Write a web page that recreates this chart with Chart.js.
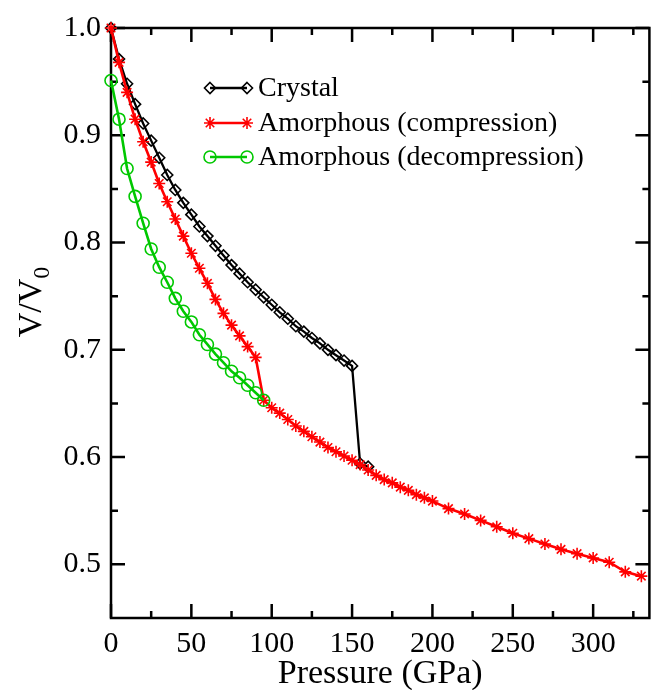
<!DOCTYPE html>
<html>
<head>
<meta charset="utf-8">
<script src="https://cdn.jsdelivr.net/npm/chart.js@4.4.0/dist/chart.umd.min.js"></script>
<style>
  html, body { margin: 0; padding: 0; background: #fff; }
  #wrap { width: 657px; height: 690px; }
</style>
</head>
<body>
<div id="wrap"><canvas id="eosChart" width="657" height="690"></canvas></div>
<script>
// values: pressure (GPa) and V/V0
const crystalP = [0, 5, 10, 15, 20, 25, 30, 35, 40, 45, 50, 55, 60, 65, 70, 75, 80, 85, 90, 95,
    100, 105, 110, 115, 120, 125, 130, 135, 140, 145, 150, 155, 160];
const crystalV = [1.000, 0.971, 0.948, 0.929, 0.911, 0.895, 0.879, 0.863, 0.849, 0.837, 0.826, 0.815,
    0.806, 0.797, 0.788, 0.779, 0.771, 0.763, 0.756, 0.749, 0.742, 0.735, 0.729, 0.722, 0.717, 0.711,
    0.706, 0.700, 0.695, 0.690, 0.685, 0.594, 0.591];

const compP = [0, 5, 10, 15, 20, 25, 30, 35, 40, 45, 50, 55, 60, 65, 70, 75, 80, 85, 90,
    95, 100, 105, 110, 115, 120, 125, 130, 135, 140, 145, 150, 155, 160, 165, 170, 175, 180, 185, 190, 195, 200,
    210, 220, 230, 240, 250, 260, 270, 280, 290, 300, 310, 320, 330];
const compV = [1.000, 0.968, 0.940, 0.915, 0.894, 0.875, 0.855, 0.838, 0.822, 0.806, 0.790, 0.776, 0.762,
    0.747, 0.734, 0.723, 0.713, 0.703, 0.693,
    0.653, 0.646, 0.641, 0.635, 0.629, 0.624, 0.619, 0.614, 0.609, 0.605, 0.601, 0.597, 0.593, 0.588, 0.583,
    0.579, 0.576, 0.572, 0.569, 0.565, 0.562, 0.559,
    0.552, 0.547, 0.541, 0.535, 0.529, 0.524, 0.519, 0.514, 0.510, 0.506, 0.502, 0.493, 0.489];

const decompP = [0, 5, 10, 15, 20, 25, 30, 35, 40, 45, 50, 55, 60, 65, 70, 75, 80, 85, 90, 95];
const decompV = [0.951, 0.915, 0.869, 0.843, 0.818, 0.794, 0.777, 0.763, 0.748, 0.736, 0.726, 0.714,
    0.705, 0.696, 0.688, 0.680, 0.674, 0.667, 0.660, 0.653];

const seriesLabels = ['Crystal', 'Amorphous (compression)', 'Amorphous (decompression)'];

const xMajorTicks = [0, 50, 100, 150, 200, 250, 300];
const xMinorTicks = [25, 75, 125, 175, 225, 275, 325];
const yMajorTicks = [0.5, 0.6, 0.7, 0.8, 0.9, 1.0];
const yMinorTicks = [0.55, 0.65, 0.75, 0.85, 0.95];

const SERIF = "'Liberation Serif', 'Times New Roman', serif";
const GREEN = 'rgb(0,200,0)';

function toPoints(xs, ys) {
    return xs.map((x, i) => ({ x: x, y: ys[i] }));
}

// marker drawing for the in-plot legend
function drawMarker(ctx, style, x, y, r) {
    ctx.beginPath();
    if (style === 'rectRot') {
        ctx.moveTo(x, y - r);
        ctx.lineTo(x + r, y);
        ctx.lineTo(x, y + r);
        ctx.lineTo(x - r, y);
        ctx.closePath();
    } else if (style === 'star') {
        ctx.moveTo(x - r, y); ctx.lineTo(x + r, y);
        ctx.moveTo(x, y - r); ctx.lineTo(x, y + r);
        const d = r * Math.SQRT1_2;
        ctx.moveTo(x - d, y - d); ctx.lineTo(x + d, y + d);
        ctx.moveTo(x - d, y + d); ctx.lineTo(x + d, y - d);
    } else {
        ctx.arc(x, y, r, 0, Math.PI * 2);
    }
    ctx.stroke();
}

// box frame with inward ticks on all four sides
const framePlugin = {
    id: 'frame',
    beforeDatasetsDraw(chart) {
        const { ctx, chartArea: a, scales } = chart;
        const xs = scales.x, ys = scales.y;
        ctx.save();
        ctx.strokeStyle = '#000';
        ctx.lineWidth = 2.5;
        ctx.lineCap = 'butt';
        ctx.strokeRect(a.left, a.top, a.right - a.left, a.bottom - a.top);
        const tick = (arr, len, isX) => {
            arr.forEach(v => {
                ctx.beginPath();
                if (isX) {
                    const px = xs.getPixelForValue(v);
                    ctx.moveTo(px, a.bottom); ctx.lineTo(px, a.bottom - len);
                    ctx.moveTo(px, a.top); ctx.lineTo(px, a.top + len);
                } else {
                    const py = ys.getPixelForValue(v);
                    ctx.moveTo(a.left, py); ctx.lineTo(a.left + len, py);
                    ctx.moveTo(a.right, py); ctx.lineTo(a.right - len, py);
                }
                ctx.stroke();
            });
        };
        tick(xMajorTicks, 14, true);
        tick(xMinorTicks, 7, true);
        tick(yMajorTicks, 14, false);
        tick(yMinorTicks, 7, false);
        ctx.restore();
    },
    afterDraw(chart) {
        const { ctx, chartArea: a } = chart;
        ctx.save();
        ctx.fillStyle = '#000';

        // x title
        ctx.font = '34px ' + SERIF;
        ctx.textAlign = 'center';
        ctx.textBaseline = 'alphabetic';
        ctx.fillText('Pressure (GPa)', (a.left + a.right) / 2, 683);

        // y title, V/V0 with subscript
        ctx.translate(30, 302);
        ctx.rotate(-Math.PI / 2);
        ctx.font = '34px ' + SERIF;
        const main = 'V/V';
        const w1 = ctx.measureText(main).width;
        ctx.font = '24px ' + SERIF;
        const w2 = ctx.measureText('0').width;
        const x0 = -(w1 + w2) / 2;
        ctx.textAlign = 'left';
        ctx.font = '34px ' + SERIF;
        ctx.fillText(main, x0, 11);
        ctx.font = '24px ' + SERIF;
        ctx.fillText('0', x0 + w1, 19);
        ctx.restore();

        // legend
        ctx.save();
        const rows = [88, 123, 157];
        chart.data.datasets.forEach((ds, i) => {
            const y = rows[i];
            ctx.strokeStyle = ds.borderColor;
            ctx.lineWidth = ds.borderWidth;
            ctx.beginPath();
            ctx.moveTo(210, y);
            ctx.lineTo(247, y);
            ctx.stroke();
            ctx.lineWidth = ds.pointBorderWidth;
            drawMarker(ctx, ds.pointStyle, 210, y, ds.pointRadius);
            drawMarker(ctx, ds.pointStyle, 247, y, ds.pointRadius);
            ctx.fillStyle = '#000';
            ctx.font = '28px ' + SERIF;
            ctx.textAlign = 'left';
            ctx.textBaseline = 'middle';
            ctx.fillText(ds.label, 258, y + 1);
        });
        ctx.restore();
    }
};

const ctx = document.getElementById('eosChart').getContext('2d');
new Chart(ctx, {
    type: 'scatter',
    data: {
        datasets: [
            {
                label: seriesLabels[0],
                data: toPoints(crystalP, crystalV),
                showLine: true,
                borderColor: '#000',
                borderWidth: 2.3,
                pointStyle: 'rectRot',
                pointRadius: 5.5,
                pointBorderWidth: 1.6,
                pointBorderColor: '#000',
                pointBackgroundColor: 'rgba(0,0,0,0)',
                clip: false,
                order: 3
            },
            {
                label: seriesLabels[1],
                data: toPoints(compP, compV),
                showLine: true,
                borderColor: '#ff0000',
                borderWidth: 2.6,
                pointStyle: 'star',
                pointRadius: 6,
                pointBorderWidth: 1.6,
                pointBorderColor: '#ff0000',
                pointBackgroundColor: 'rgba(0,0,0,0)',
                clip: false,
                order: 2
            },
            {
                label: seriesLabels[2],
                data: toPoints(decompP, decompV),
                showLine: true,
                borderColor: GREEN,
                borderWidth: 2.6,
                pointStyle: 'circle',
                pointRadius: 6,
                pointBorderWidth: 1.6,
                pointBorderColor: GREEN,
                pointBackgroundColor: 'rgba(0,0,0,0)',
                clip: false,
                order: 1
            }
        ]
    },
    options: {
        responsive: false,
        animation: false,
        devicePixelRatio: 1,
        layout: { padding: { top: 24, right: 2, left: 0, bottom: 0 } },
        plugins: {
            legend: { display: false },
            tooltip: { enabled: false }
        },
        scales: {
            x: {
                type: 'linear',
                min: 0,
                max: 335,
                grid: { display: false, drawTicks: false },
                border: { display: false },
                ticks: {
                    color: '#000',
                    font: { family: SERIF, size: 30 },
                    padding: 8,
                    maxRotation: 0,
                    callback: v => String(v)
                },
                afterBuildTicks: s => { s.ticks = xMajorTicks.map(v => ({ value: v })); },
                afterFit: s => { s.height = 72; }
            },
            y: {
                type: 'linear',
                min: 0.45,
                max: 1.0,
                grid: { display: false, drawTicks: false },
                border: { display: false },
                ticks: {
                    color: '#000',
                    font: { family: SERIF, size: 30 },
                    padding: 10,
                    callback: v => v.toFixed(1)
                },
                afterBuildTicks: s => { s.ticks = yMajorTicks.map(v => ({ value: v })); },
                afterFit: s => { s.width = 111; }
            }
        }
    },
    plugins: [framePlugin]
});
</script>
</body>
</html>
